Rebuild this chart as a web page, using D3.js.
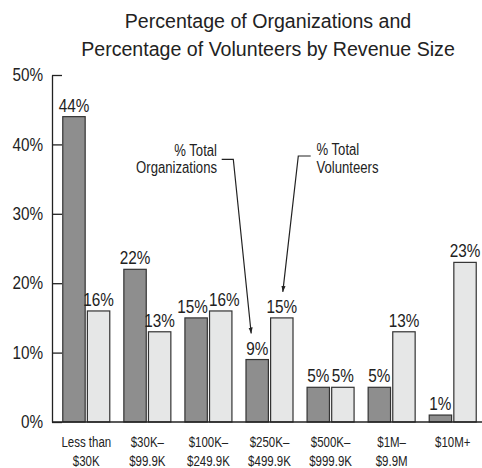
<!DOCTYPE html>
<html lang="en">
<head>
<meta charset="utf-8">
<script src="https://d3js.org/d3.v7.min.js"></script>
<style>
  body { margin: 0; background: #fff; }
  text { fill: #222; font-family: "Liberation Sans", Arial, sans-serif; }
  .title { font-size: 19.6px; }
</style>
</head>
<body>
<svg width="482" height="468"></svg>
<script>
// data
var categories = ["Less than|$30K", "$30K\u2013|$99.9K", "$100K\u2013|$249.9K", "$250K\u2013|$499.9K",
                  "$500K\u2013|$999.9K", "$1M\u2013|$9.9M", "$10M+"];
var series = ["Organizations", "Volunteers"];
var orgPct = [44, 22, 15, 9, 5, 5, 1];
var volPct = [16, 13, 16, 15, 5, 13, 23];
var yTicks = [0, 10, 20, 30, 40, 50];
var titleLines = ["Percentage of Organizations and", "Percentage of Volunteers by Revenue Size"];

var colors = { Organizations: "#8e8e8e", Volunteers: "#e6e7e7" };

// no condensed font installed, so squeeze the regular one horizontally
var SQ = 0.85, SQ_CAT = 0.82, SQ_NOTE = 0.82;

var svg = d3.select("svg");

var y = d3.scaleLinear().domain([0, 50]).range([422, 75]);

var x0 = d3.scaleBand()
    .domain(categories)
    .range([48.7, 490.3])
    .paddingInner(0.2304)
    .paddingOuter(0.2304);

var x1 = d3.scaleBand()
    .domain(series)
    .range([0, x0.bandwidth()])
    .paddingInner(0.09);

// title
svg.append("text")
    .attr("class", "title")
    .attr("text-anchor", "middle")
    .selectAll("tspan")
    .data(titleLines)
    .enter().append("tspan")
    .attr("x", 268)
    .attr("y", function(d, i) { return 28 + i * 28.4; })
    .text(function(d) { return d; });

// y axis, ticks pointing inwards
var yAxis = d3.axisLeft(y)
    .tickValues(yTicks)
    .tickFormat(function(d) { return d + "%"; })
    .tickSizeInner(-10)
    .tickSizeOuter(0)
    .tickPadding(9);

var gy = svg.append("g")
    .attr("transform", "translate(52,0)")
    .call(yAxis);
gy.select(".domain").attr("stroke", "#222").attr("stroke-width", 1.3);
gy.selectAll(".tick line").attr("stroke", "#222").attr("stroke-width", 1.3);
gy.selectAll(".tick text")
    .attr("fill", "#222")
    .style("font-family", "Liberation Sans, Arial, sans-serif")
    .style("font-size", "18px")
    .attr("transform", "scale(" + SQ + ",1)")
    .attr("x", -9 / SQ);

// bars
var rows = categories.map(function(c, i) {
  return { cat: c, values: [
    { key: "Organizations", v: orgPct[i] },
    { key: "Volunteers", v: volPct[i] }
  ]};
});

var groups = svg.selectAll("g.grp")
    .data(rows)
    .enter().append("g")
    .attr("class", "grp")
    .attr("transform", function(d) { return "translate(" + x0(d.cat) + ",0)"; });

groups.selectAll("rect")
    .data(function(d) { return d.values; })
    .enter().append("rect")
    .attr("x", function(d) { return x1(d.key); })
    .attr("y", function(d) { return y(d.v); })
    .attr("width", x1.bandwidth())
    .attr("height", function(d) { return y(0) - y(d.v); })
    .attr("fill", function(d) { return colors[d.key]; })
    .attr("stroke", "#333")
    .attr("stroke-width", 1.2);

// value labels, nudged apart where neighbours collide
groups.each(function(d) {
  var g = d3.select(this);
  var labels = g.selectAll("text.val")
      .data(d.values)
      .enter().append("text")
      .attr("class", "val")
      .style("font-size", "18px")
      .attr("text-anchor", "middle")
      .attr("transform", "scale(" + SQ + ",1)")
      .attr("x", function(e) { return (x1(e.key) + x1.bandwidth() / 2) / SQ; })
      .attr("y", function(e) { return y(e.v) - 5; })
      .text(function(e) { return e.v + "%"; });
  var nodes = labels.nodes();
  var a = nodes[0].getBBox(), b = nodes[1].getBBox();
  var overlap = (a.x + a.width) - b.x + 1;
  var vOverlap = Math.min(a.y + a.height, b.y + b.height) - Math.max(a.y, b.y);
  if (overlap > 0 && vOverlap > 0) {
    d3.select(nodes[0]).attr("x", +d3.select(nodes[0]).attr("x") - overlap / 2);
    d3.select(nodes[1]).attr("x", +d3.select(nodes[1]).attr("x") + overlap / 2);
  }
});

// baseline
svg.append("line")
    .attr("x1", 52).attr("x2", 482)
    .attr("y1", y(0)).attr("y2", y(0))
    .attr("stroke", "#222")
    .attr("stroke-width", 1.3);

// category labels
svg.selectAll("text.cat")
    .data(categories)
    .enter().append("text")
    .attr("class", "cat")
    .style("font-size", "14px")
    .attr("text-anchor", "middle")
    .attr("transform", "scale(" + SQ_CAT + ",1)")
    .each(function(c) {
      var cx = (x0(c) + x0.bandwidth() / 2) / SQ_CAT;
      d3.select(this).selectAll("tspan")
        .data(c.split("|"))
        .enter().append("tspan")
        .attr("x", cx)
        .attr("y", function(t, i) { return 447 + i * 19; })
        .text(function(t) { return t; });
    });

// callouts
svg.append("defs").append("marker")
    .attr("id", "arr")
    .attr("viewBox", "0 0 10 10")
    .attr("refX", 10).attr("refY", 5)
    .attr("markerWidth", 5).attr("markerHeight", 5)
    .attr("orient", "auto")
    .append("path")
    .attr("d", "M0,1.5L10,5L0,8.5Z")
    .attr("fill", "#222");

var focus = categories[3];
var orgTip = [x0(focus) + x1("Organizations") + x1.bandwidth() / 2 - 6, y(orgPct[3]) - 26];
var volTip = [x0(focus) + x1("Volunteers") + x1.bandwidth() / 2 + 1, y(volPct[3]) - 26];

svg.append("path")
    .attr("d", "M221.7,159.3H233.3L" + orgTip[0] + "," + orgTip[1])
    .attr("fill", "none").attr("stroke", "#222").attr("stroke-width", 1.2)
    .attr("marker-end", "url(#arr)");

svg.append("path")
    .attr("d", "M310.7,156H298.3L" + volTip[0] + "," + volTip[1])
    .attr("fill", "none").attr("stroke", "#222").attr("stroke-width", 1.2)
    .attr("marker-end", "url(#arr)");

svg.append("text")
    .style("font-size", "16px")
    .attr("text-anchor", "end")
    .attr("transform", "scale(" + SQ_NOTE + ",1)")
    .selectAll("tspan")
    .data(["% Total", "Organizations"])
    .enter().append("tspan")
    .attr("x", 217 / SQ_NOTE)
    .attr("y", function(d, i) { return 156 + i * 17.5; })
    .text(function(d) { return d; });

svg.append("text")
    .style("font-size", "16px")
    .attr("text-anchor", "start")
    .attr("transform", "scale(" + SQ_NOTE + ",1)")
    .selectAll("tspan")
    .data(["% Total", "Volunteers"])
    .enter().append("tspan")
    .attr("x", 316.5 / SQ_NOTE)
    .attr("y", function(d, i) { return 155 + i * 18.3; })
    .text(function(d) { return d; });
</script>
</body>
</html>
